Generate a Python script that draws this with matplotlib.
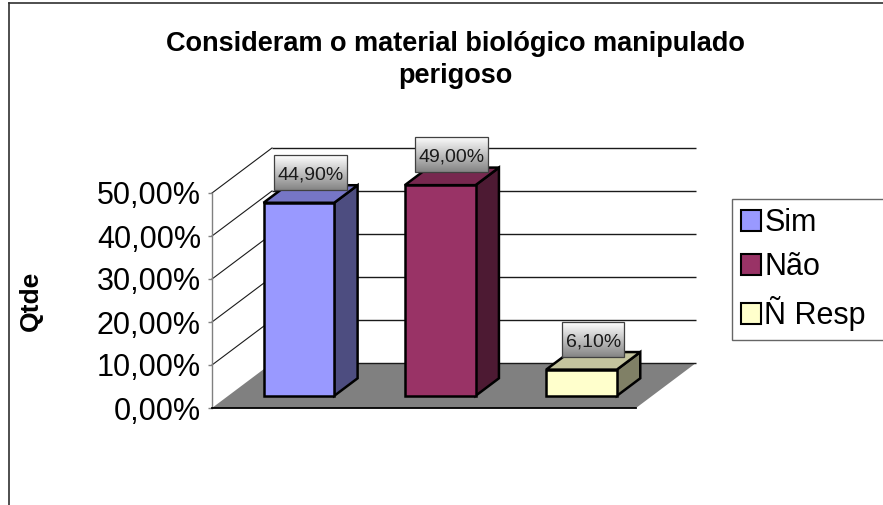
import numpy as np
import matplotlib
matplotlib.use("Agg")
import matplotlib.pyplot as plt
from matplotlib.patches import Polygon, Patch, Rectangle
from matplotlib.lines import Line2D

# ---- data -------------------------------------------------------------
categories = ["Sim", "Não", "Ñ Resp"]
values = [0.449, 0.490, 0.061]
value_labels = ["44,90%", "49,00%", "6,10%"]
tick_values = [0.0, 0.1, 0.2, 0.3, 0.4, 0.5]
tick_labels = ["0,00%", "10,00%", "20,00%", "30,00%", "40,00%", "50,00%"]
title_text = "Consideram o material biológico manipulado\nperigoso"
axis_label = "Qtde"

# ---- styling ----------------------------------------------------------
front_colors = ["#9999FF", "#993366", "#FFFFCC"]
top_colors = ["#7676C6", "#77284F", "#C4C49E"]
side_colors = ["#4D4D80", "#4D1A33", "#808066"]
floor_color = "#808080"

plt.rcParams['font.family'] = ['Liberation Sans', 'DejaVu Sans']

W, H = 883, 505
fig = plt.figure(figsize=(W / 100, H / 100), dpi=100)
fig.patch.set_facecolor('white')


def fx(px):
    return px / W


def fy(py):
    return 1 - py / H


# outer chart frame (left and top edges)
fig.add_artist(Line2D([fx(8.5), fx(8.5)], [0, fy(2.5)], color='#303030', lw=1.2))
fig.add_artist(Line2D([fx(8.5), 1], [fy(2.5), fy(2.5)], color='#303030', lw=1.2))

# front plane of the plot: categories along x, values along y
ax = fig.add_axes([fx(212), fy(408), fx(636) - fx(212), fy(193) - fy(408)])
n = len(categories)
ax.set_xlim(0, n)
ax.set_ylim(0, 0.5)
ax.set_autoscale_on(False)
ax.patch.set_visible(False)

# oblique depth offset of the back wall (in data units)
DEPTH_X = 0.4245
DEPTH_Y = 0.1047


def proj(x, y, z):
    return (x + z * DEPTH_X, y + z * DEPTH_Y)


# floor
floor = Polygon([proj(0, 0, 0), proj(n, 0, 0), proj(n, 0, 1), proj(0, 0, 1)],
                closed=True, facecolor=floor_color, edgecolor='none',
                zorder=1, clip_on=False)
ax.add_patch(floor)

# back-wall gridlines and side-wall diagonals
for t in tick_values:
    (xa, ya), (xb, yb) = proj(0, t, 1), proj(n, t, 1)
    ax.plot([xa, xb], [ya, yb], color='#1a1a1a', lw=1.0, zorder=1.5,
            clip_on=False, solid_capstyle='butt')
    if t > 0:
        (xc, yc), (xd, yd) = proj(0, t, 0), proj(0, t, 1)
        ax.plot([xc, xd], [yc, yd], color='#1a1a1a', lw=0.8, zorder=1.5,
                clip_on=False)

# 3-D bars
BAR_W = 0.5
Z0, Z1 = 0.27, 0.66
edge_kw = dict(edgecolor='black', linewidth=1.8, joinstyle='miter',
               clip_on=False, zorder=3)
anchors = []
for i, v in enumerate(values):
    xc = i + 0.5
    x0, x1 = xc - BAR_W / 2, xc + BAR_W / 2
    front = [proj(x0, 0, Z0), proj(x1, 0, Z0), proj(x1, v, Z0), proj(x0, v, Z0)]
    side = [proj(x1, 0, Z0), proj(x1, 0, Z1), proj(x1, v, Z1), proj(x1, v, Z0)]
    top = [proj(x0, v, Z0), proj(x1, v, Z0), proj(x1, v, Z1), proj(x0, v, Z1)]
    ax.add_patch(Polygon(side, closed=True, facecolor=side_colors[i], **edge_kw))
    ax.add_patch(Polygon(top, closed=True, facecolor=top_colors[i], **edge_kw))
    ax.add_patch(Polygon(front, closed=True, facecolor=front_colors[i], **edge_kw))
    anchors.append(proj(xc, v, (Z0 + Z1) / 2))

# value labels
label_texts = []
for (axx, ayy), lab in zip(anchors, value_labels):
    t = ax.annotate(lab, xy=(axx, ayy), xytext=(0, 14.5),
                    textcoords='offset pixels', ha='center', va='baseline',
                    fontsize=14, color='#1a1a1a', zorder=6,
                    annotation_clip=False)
    label_texts.append(t)

# axes decoration
ax.set_yticks(tick_values)
ax.set_yticklabels(tick_labels)
ax.tick_params(axis='y', length=3, width=1, color='#808080', pad=5,
               labelsize=22, labelcolor='black')
ax.tick_params(axis='x', bottom=False, labelbottom=False)
ax.spines['top'].set_visible(False)
ax.spines['right'].set_visible(False)
ax.spines['left'].set_color('#808080')
ax.spines['left'].set_linewidth(1.0)
ax.spines['bottom'].set_color('black')
ax.spines['bottom'].set_linewidth(1.3)
ax.spines['bottom'].set_zorder(2.5)

ax.set_ylabel(axis_label, fontsize=19, fontweight='bold')
ax.yaxis.set_label_coords(-0.40, 0.50)

fig.text(fx(455), fy(60), title_text, ha='center', va='center',
         fontsize=19.5, fontweight='bold', linespacing=1.32)

# legend (frame runs past the right edge of the picture)
handles = [Patch(facecolor=c, edgecolor='black', linewidth=1.5) for c in front_colors]
leg = ax.legend(handles, categories, loc='upper left',
                bbox_to_anchor=(fx(732), fy(199), fx(900) - fx(732), 0.0),
                bbox_transform=fig.transFigure, mode='expand',
                fontsize=22, frameon=True, fancybox=False, shadow=False,
                borderpad=0.3, labelspacing=0.46, handlelength=0.64,
                handleheight=0.64, handletextpad=0.12, borderaxespad=0)
leg.get_frame().set_edgecolor('#404040')
leg.get_frame().set_linewidth(1.0)

# gradient boxes behind the value labels
fig.canvas.draw()
renderer = fig.canvas.get_renderer()
grad = np.linspace(1.0, 0.52, 64)
grad_img = np.dstack([grad, grad, grad]).reshape(64, 1, 3)
inv = ax.transData.inverted()
for t, (axx, ayy) in zip(label_texts, anchors):
    bb = t.get_window_extent(renderer)
    dx, dy = ax.transData.transform((axx, ayy))
    half = bb.width / 2 + 3.5
    (bx0, by0) = inv.transform((dx - half, dy + 4))
    (bx1, by1) = inv.transform((dx + half, dy + 39))
    ax.imshow(grad_img, extent=[bx0, bx1, by0, by1], aspect='auto',
              origin='upper', interpolation='bilinear', zorder=5, clip_on=False)
    ax.add_patch(Rectangle((bx0, by0), bx1 - bx0, by1 - by0, facecolor='none',
                           edgecolor='#404040', linewidth=0.9, zorder=5.5,
                           clip_on=False))

ax.set_xlim(0, n)
ax.set_ylim(0, 0.5)

fig.savefig('out.png', dpi=100)
